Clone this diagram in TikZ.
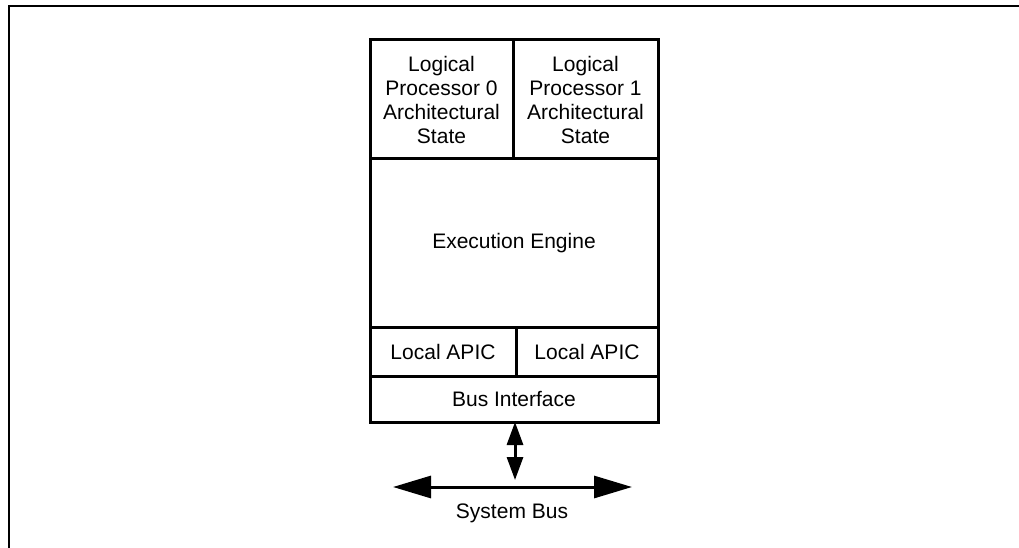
\documentclass[tikz,border=0pt]{standalone}
\usepackage{fontspec}
\setmainfont{Liberation Sans}
\usetikzlibrary{positioning, arrows.meta}

\begin{document}
\begin{tikzpicture}[
    x=1pt, y=1pt,
    node distance=0pt,
    cell/.style={
        rectangle,
        draw=black,
        line width=3pt,
        outer sep=0pt,
        inner sep=0pt,
        align=center,
        font=\fontsize{21}{24}\selectfont
    },
    label/.style={
        inner sep=0pt,
        font=\fontsize{21}{24}\selectfont
    },
    bus/.style={draw, line width=3pt, {Triangle[length=38pt, width=22pt]}-{Triangle[length=38pt, width=22pt]}},
    link/.style={draw, line width=3pt, {Triangle[length=23pt, width=16pt]}-{Triangle[length=23pt, width=16pt]}}
]

\useasboundingbox (0,0) rectangle (1019,547);
\draw [line width=2.5pt] (9,-5) -- (9,541) -- (1030,541);

\node (lp0) [cell, minimum width=143pt, minimum height=119pt] at (441.5,447.5) {Logical\\Processor 0\\Architectural\\State};
\node (lp1) [cell, minimum width=145pt, minimum height=119pt, right=of lp0] {Logical\\Processor 1\\Architectural\\State};
\node (exec) [cell, minimum width=288pt, minimum height=168pt, below=of lp0.south west, anchor=north west] {Execution Engine};
\node (apic0) [cell, minimum width=146pt, minimum height=49pt, below=of exec.south west, anchor=north west] {Local APIC};
\node (apic1) [cell, minimum width=142pt, minimum height=49pt, right=of apic0] {Local APIC};
\node (busif) [cell, minimum width=288pt, minimum height=46pt, below=of apic0.south west, anchor=north west] {Bus Interface};

\coordinate (tap) at (515,67);
\coordinate (busL) at (393,60);
\coordinate (busR) at (632,60);
\node (sysbus) [label] at (512,34) {System Bus};

\path [link] (busif.south -| tap) -- (tap);
\path [bus] (busL) -- (busR);

\end{tikzpicture}
\end{document}
